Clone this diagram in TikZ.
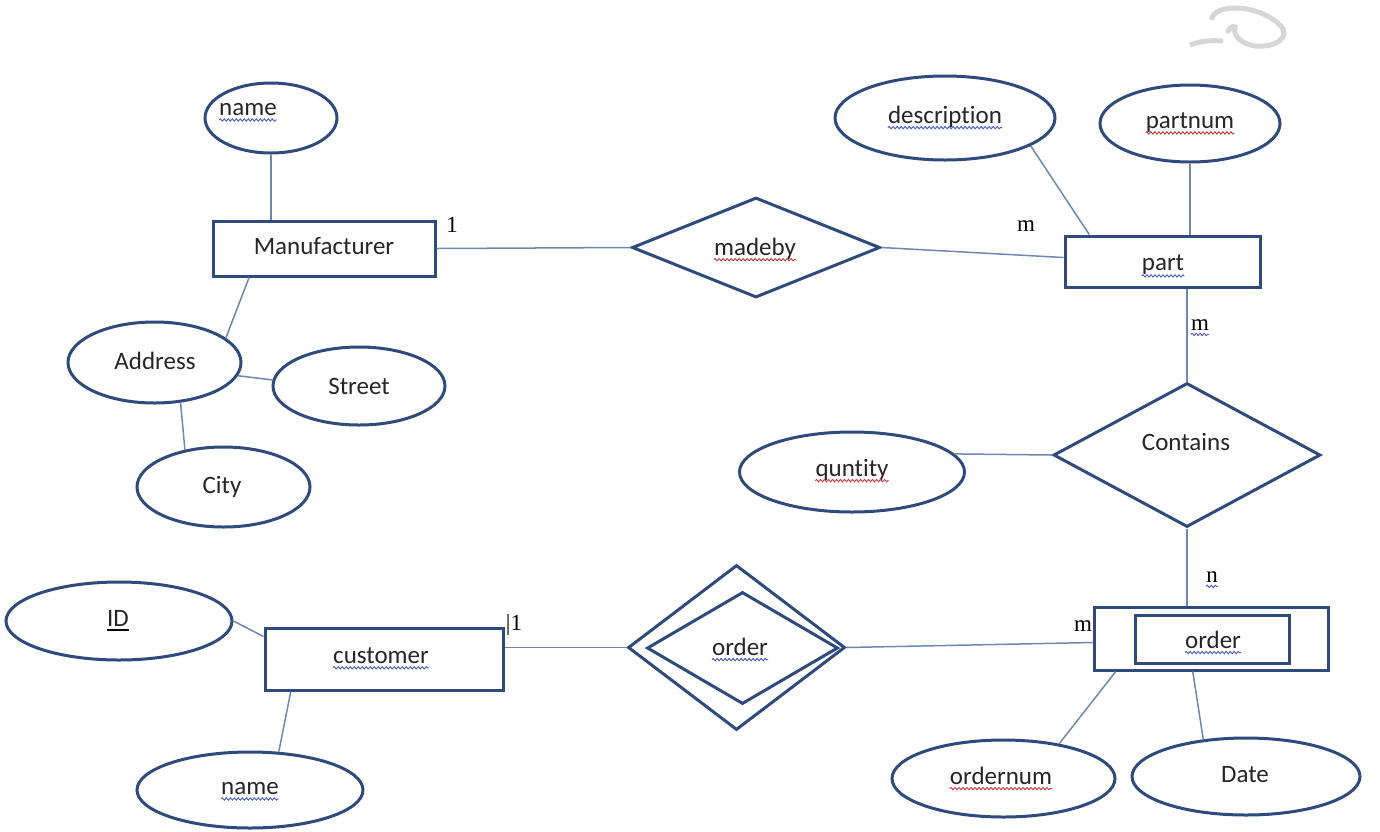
\documentclass[tikz,border=0pt]{standalone}
\usepackage{fontspec}
\setmainfont{Carlito}[Ligatures=NoCommon]
\newfontfamily\numfont{Liberation Serif}
\usetikzlibrary{shapes.geometric,calc,decorations.pathmorphing}
\definecolor{shapeblue}{HTML}{2F4B7E}
\definecolor{linkblue}{HTML}{7088B0}
\definecolor{sqblue}{HTML}{4A5CC8}
\definecolor{sqred}{HTML}{D03A3A}
\definecolor{wm}{HTML}{D6D6D6}
\tikzset{
  every node/.style={font=\fontsize{25}{29}\selectfont},
  ent/.style={draw=shapeblue,line width=3pt,rectangle,inner sep=0pt},
  attr/.style={draw=shapeblue,line width=3pt,ellipse,inner sep=0pt},
  rel/.style={draw=shapeblue,line width=3pt,diamond,inner sep=0pt,aspect=2},
  txt/.style={inner sep=0pt,text=black!85},
  card/.style={inner sep=0pt,font=\numfont\fontsize{23}{27}\selectfont},
  link/.style={draw=linkblue,line width=1.5pt},
  sqb/.style={draw=sqblue,line width=0.9pt,decorate,decoration={snake,amplitude=1.2pt,segment length=4pt}},
  sqr/.style={draw=sqred,line width=0.9pt,decorate,decoration={snake,amplitude=1.2pt,segment length=4pt}}
}
\begin{document}
\begin{tikzpicture}[x=1pt,y=-1pt]
\useasboundingbox (0,0) rectangle (1380,831);
\fill[white] (0,0) rectangle (1380,831);
% watermark
\draw[wm,line width=5pt,line cap=round] (1212,18) .. controls (1215,5) and (1255,2) .. (1280,25) .. controls (1292,37) and (1275,48) .. (1255,46) .. controls (1242,44) and (1233,36) .. (1235,29) .. controls (1237,25) and (1230,26) .. (1228,31);
\draw[wm,line width=5pt] (1190,45) .. controls (1200,41) and (1212,40) .. (1223,41);

% shapes
\node[attr,minimum width=132,minimum height=70] (name) at (271,118) {};
\node[ent,minimum width=222,minimum height=55] (mfr) at (324,248.5) {};
\node[rel,minimum width=248,minimum height=100] (madeby) at (756,247.5) {};
\node[ent,minimum width=195,minimum height=51] (part) at (1162.5,261.5) {};
\node[attr,minimum width=220,minimum height=84] (desc) at (945,118) {};
\node[attr,minimum width=180,minimum height=77] (pnum) at (1190,123.5) {};
\node[rel,minimum width=267,minimum height=144] (contains) at (1187,455) {};
\node[attr,minimum width=225,minimum height=80] (qunt) at (852,472) {};
\node[ent,minimum width=234,minimum height=63] (ordr) at (1211,638.5) {};
\node[ent,minimum width=154,minimum height=48] (ordrin) at (1212,639) {};
\node[rel,minimum width=217,minimum height=165] (odia) at (736.5,647.5) {};
\node[rel,minimum width=191,minimum height=112] (odiain) at (742.5,648) {};
\node[ent,minimum width=238,minimum height=62] (cust) at (384,659) {};
\node[attr,minimum width=226,minimum height=78] (id) at (119,621) {};
\node[attr,minimum width=226,minimum height=76] (name2) at (250,790) {};
\node[attr,minimum width=223,minimum height=77] (onum) at (1003.5,778.5) {};
\node[attr,minimum width=228,minimum height=77] (date) at (1246,776.5) {};
\node[attr,minimum width=173,minimum height=81] (addr) at (154.5,362.5) {};
\node[attr,minimum width=172,minimum height=78] (street) at (359,386) {};
\node[attr,minimum width=173,minimum height=80] (city) at (223.5,487) {};

% texts
\node[txt] (tname) at (248,110) {name};
\node[txt] (tmfr) at (324,246) {Manufacturer};
\node[txt] (tmadeby) at (755,249) {madeby};
\node[txt] (tpart) at (1163,265) {part};
\node[txt] (tdesc) at (945,117) {description};
\node[txt] (tpnum) at (1190,123) {partnum};
\node[txt] (tcont) at (1186,442) {Contains};
\node[txt] (tqunt) at (852,470) {quntity};
\node[txt] (tordr) at (1213,640) {order};
\node[txt] (todia) at (740,647) {order};
\node[txt] (tcust) at (381,656) {customer};
\node[txt] (tid) at (118,618) {ID};
\node[txt] (tname2) at (250,789) {name};
\node[txt] (tonum) at (1001,776) {ordernum};
\node[txt] (tdate) at (1245,775) {Date};
\node[txt] (taddr) at (155,361) {Address};
\node[txt] (tstreet) at (359,386) {Street};
\node[txt] (tcity) at (222,487) {City};

% cardinalities
\node[card] (c1) at (452,225) {1};
\node[card] (c2) at (1026,226) {m};
\node[card] (c3) at (1200,325) {m};
\node[card] (c4) at (1212,577) {n};
\node[card] (c5) at (1083,626) {m};
\node[card] (c6) at (514,625) {|1};

% spell-check squiggles
\draw[sqb] ([yshift=-4pt]tname.base west) -- ([yshift=-4pt]tname.base east);
\draw[sqr] ([yshift=-4pt]tmadeby.base west) -- ([yshift=-4pt]tmadeby.base east);
\draw[sqb] ([yshift=-5pt]tpart.base west) -- ([yshift=-5pt]tpart.base east);
\draw[sqb] ([yshift=-4pt]tdesc.base west) -- ([yshift=-4pt]tdesc.base east);
\draw[sqr] ([yshift=-4pt]tpnum.base west) -- ([yshift=-4pt]tpnum.base east);
\draw[sqr] ([yshift=-4pt]tqunt.base west) -- ([yshift=-4pt]tqunt.base east);
\draw[sqb] ([yshift=-4pt]tordr.base west) -- ([yshift=-4pt]tordr.base east);
\draw[sqb] ([yshift=-4pt]todia.base west) -- ([yshift=-4pt]todia.base east);
\draw[sqb] ([yshift=-4pt]tcust.base west) -- ([yshift=-4pt]tcust.base east);
\draw[sqb] ([yshift=-4pt]tname2.base west) -- ([yshift=-4pt]tname2.base east);
\draw[sqr] ([yshift=-4pt]tonum.base west) -- ([yshift=-4pt]tonum.base east);
\draw[sqb] ([yshift=-4pt]c3.base west) -- ([yshift=-4pt]c3.base east);
\draw[sqb] ([yshift=-4pt]c4.base west) -- ([yshift=-4pt]c4.base east);
\draw[black,line width=2.5pt] ([yshift=-4pt]tid.base west) -- ([yshift=-4pt]tid.base east);

% connectors
\draw[link] (name.south) -- (name.south |- mfr.north);
\draw[link] (mfr.east) -- (madeby.west);
\draw[link] (madeby.east) -- ([yshift=4pt]part.west);
\draw[link] (desc.-18) -- ($(part.north west)!0.13!(part.north east)$);
\draw[link] (pnum.south) -- (pnum.south |- part.north);
\draw[link] (contains.north |- part.south) -- (contains.north);
\draw[link] (qunt.10) -- (contains.west);
\draw[link] (contains.south) -- (contains.south |- ordr.north);
\draw[link] (odia.east) -- ([yshift=-4pt]ordr.west);
\draw[link] (cust.east |- odia.west) -- (odia.west);
\draw[link] (id.east) -- ([yshift=-10pt]cust.north west);
\draw[link] ($(cust.south west)!0.113!(cust.south east)$) -- (name2.53);
\draw[link] ($(ordr.south west)!0.098!(ordr.south east)$) -- (onum.32);
\draw[link] ($(ordr.south west)!0.423!(ordr.south east)$) -- (date.139);
\draw[link] ($(mfr.south west)!0.167!(mfr.south east)$) -- (addr.19);
\draw[link] (addr.-9) -- (street.176);
\draw[link] (addr.-57) -- (city.136);
\end{tikzpicture}
\end{document}
